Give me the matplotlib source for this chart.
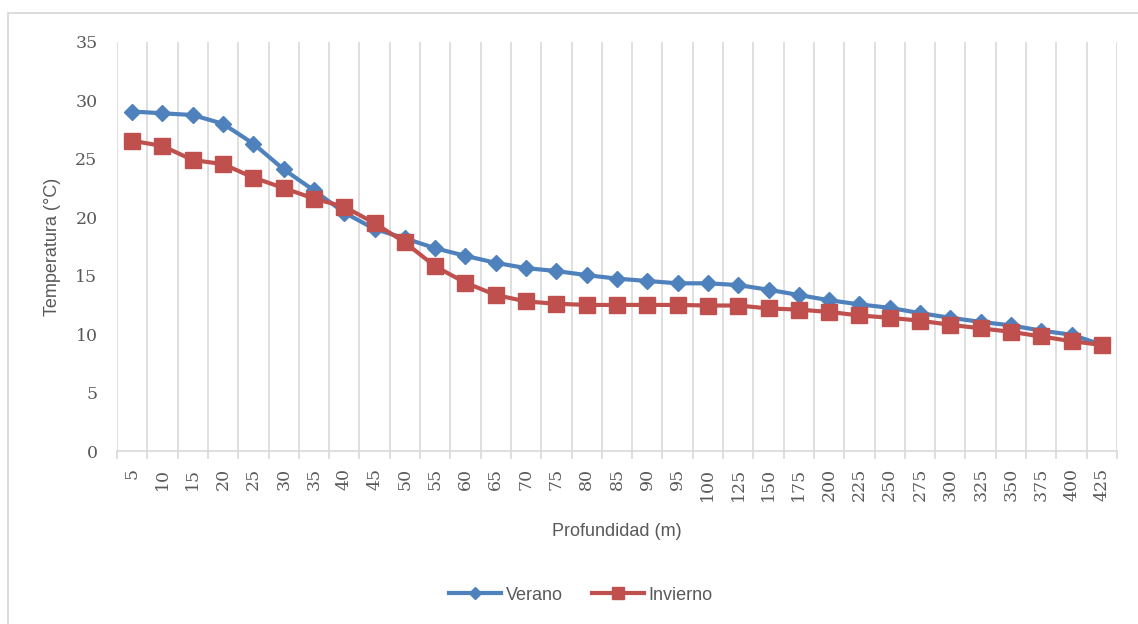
import matplotlib
matplotlib.use("Agg")
import matplotlib.pyplot as plt
from matplotlib.patches import Rectangle
import numpy as np

depths = ["5", "10", "15", "20", "25", "30", "35", "40", "45", "50", "55", "60", "65",
          "70", "75", "80", "85", "90", "95", "100", "125", "150", "175", "200", "225",
          "250", "275", "300", "325", "350", "375", "400", "425"]
verano = [29.05, 28.9, 28.75, 28.0, 26.3, 24.1, 22.3, 20.4, 19.0, 18.2, 17.35, 16.7, 16.1,
          15.65, 15.4, 15.05, 14.75, 14.55, 14.35, 14.35, 14.2, 13.8, 13.35, 12.9, 12.55,
          12.25, 11.8, 11.4, 11.05, 10.75, 10.3, 9.95, 9.1]
invierno = [26.55, 26.1, 24.9, 24.55, 23.4, 22.5, 21.6, 20.9, 19.5, 17.85, 15.8, 14.4, 13.35,
            12.8, 12.6, 12.5, 12.5, 12.5, 12.5, 12.45, 12.45, 12.2, 12.1, 11.9, 11.6,
            11.4, 11.15, 10.8, 10.5, 10.2, 9.8, 9.4, 9.07]
y_ticks = [0, 5, 10, 15, 20, 25, 30, 35]

W, H = 1138, 624
fig = plt.figure(figsize=(W / 100, H / 100), dpi=100)
fig.patch.set_facecolor("white")
fig.add_artist(Rectangle((8 / W, -0.01), 1.02, 1 - 13 / H + 0.01, transform=fig.transFigure,
                         fill=False, edgecolor="#d9d9d9", linewidth=1.3))

ax = fig.add_axes([117 / W, 1 - 451 / H, 1000 / W, 409 / H])
x = np.arange(len(depths))
grid_c = "#d9d9d9"
for b in np.arange(-0.5, len(depths) + 0.5, 1.0):
    ax.axvline(b, color=grid_c, linewidth=1.2, zorder=0)

blue = "#4f81bd"
red = "#c0504d"
ax.plot(x, verano, color=blue, linewidth=3, marker="D", markersize=8.5,
        markeredgecolor=blue, label="Verano", zorder=3)
ax.plot(x, invierno, color=red, linewidth=3, marker="s", markersize=11,
        markeredgecolor=red, label="Invierno", zorder=3)

ax.set_xlim(-0.5, len(depths) - 0.5)
ax.set_ylim(0, 35)
ax.set_yticks(y_ticks)
ax.set_yticklabels([str(v) for v in y_ticks], fontfamily="DejaVu Serif", fontsize=12.5,
                   color="#595959")
ax.set_xticks(x)
ax.set_xticklabels(depths, rotation=90, fontfamily="DejaVu Serif", fontsize=12.5,
                   color="#595959")
ax.tick_params(axis="y", length=0, pad=14)
ax.tick_params(axis="x", length=0, pad=12)
for side in ["top", "right", "left"]:
    ax.spines[side].set_visible(False)
ax.spines["bottom"].set_color(grid_c)
ax.spines["bottom"].set_linewidth(1.2)
# small ticks at category boundaries
ax.set_xticks(np.arange(-0.5, len(depths), 1.0), minor=True)
ax.tick_params(axis="x", which="minor", length=6, color=grid_c, width=1.2)

ax.set_ylabel("Temperatura (°C)", fontfamily="Liberation Sans", fontsize=13,
              color="#595959", labelpad=10)
fig.text(617 / W, 1 - 531 / H, "Profundidad (m)", fontfamily="Liberation Sans",
         fontsize=13, color="#595959", ha="center", va="center")

leg = fig.legend(loc="center", bbox_to_anchor=(581 / W, 1 - 595 / H), ncol=2, frameon=False,
                 prop={"family": "Liberation Sans", "size": 13}, handlelength=2.9,
                 columnspacing=1.6, handletextpad=0.25, markerscale=0.75)
for t in leg.get_texts():
    t.set_color("#595959")

fig.savefig("out.png", dpi=100, facecolor="white")
